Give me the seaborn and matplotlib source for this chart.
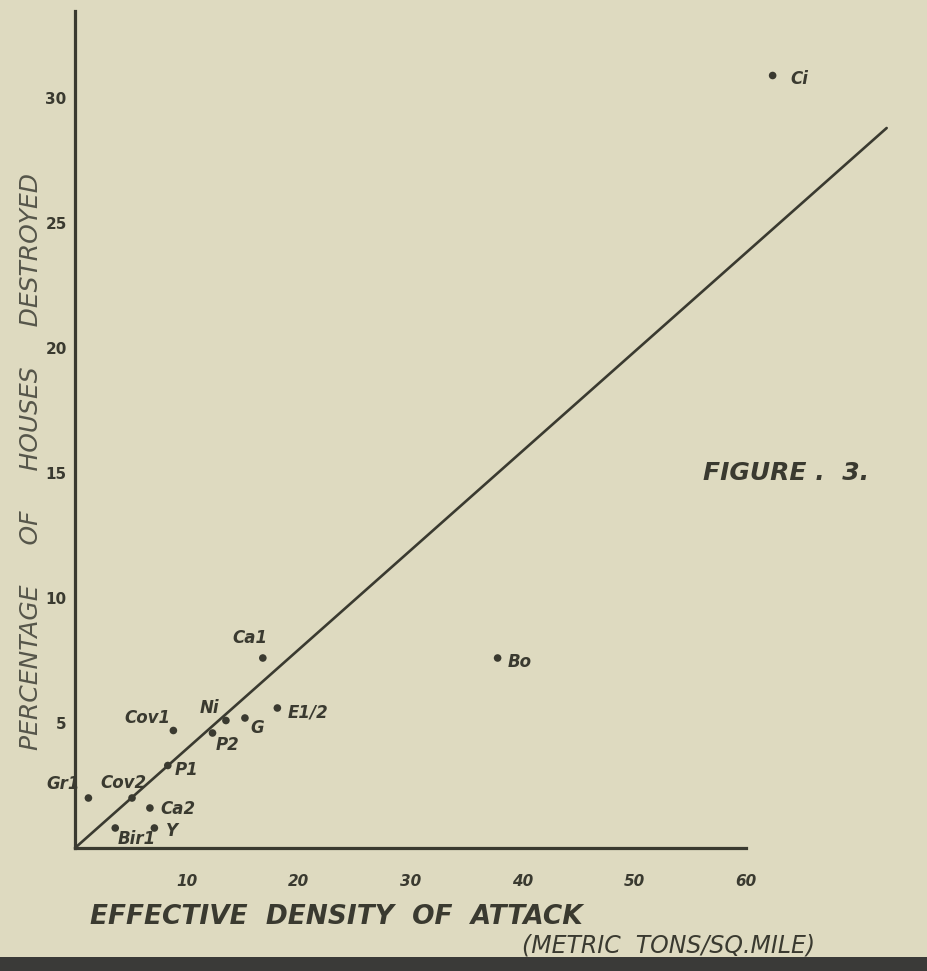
import numpy as np
import pandas as pd
import matplotlib
matplotlib.use("Agg")
import matplotlib.pyplot as plt
import seaborn as sns
from matplotlib.patches import Rectangle

sns.set_style("white")
plt.rcParams['font.family'] = ['DejaVu Sans']

# --- data ---
towns = ['Ci', 'Bo', 'Ca1', 'E1/2', 'G', 'Ni', 'P2', 'Cov1', 'P1', 'Cov2', 'Gr1', 'Ca2', 'Y', 'Bir1']
density = [62.4, 37.8, 16.8, 18.1, 15.2, 13.5, 12.3, 8.8, 8.3, 5.1, 1.2, 6.7, 7.1, 3.6]
pct_destroyed = [30.9, 7.6, 7.6, 5.6, 5.2, 5.1, 4.6, 4.7, 3.3, 2.0, 2.0, 1.6, 0.8, 0.8]

# fitted line through the origin
fit_x = [0, 72.6]
fit_y = [0, 28.8]

x_ticks = [10, 20, 30, 40, 50, 60]
y_ticks = [5, 10, 15, 20, 25, 30]

df = pd.DataFrame({'town': towns, 'density': density, 'pct': pct_destroyed})
fit_df = pd.DataFrame({'x': fit_x, 'y': fit_y})

# label offsets in pixels (dx right, dy down) relative to each dot
label_offsets = {
    'Ci': (27, 3), 'Bo': (22, 4), 'Ca1': (-13, -20), 'E1/2': (31, 4),
    'G': (12, 10), 'Ni': (-16, -13), 'P2': (15, 12), 'Cov1': (-26, -13),
    'P1': (19, 4), 'Cov2': (-9, -15), 'Gr1': (-25, -14), 'Ca2': (28, 1),
    'Y': (18, 3), 'Bir1': (22, 11),
}

paper = '#dedac0'
ink = '#3a3a30'

fig = plt.figure(figsize=(9.28, 9.71), dpi=100, facecolor=paper)
ax = fig.add_axes([0, 0, 1, 1], facecolor=paper)

# pixel frame of the original: origin at (75, 848), 11.18 px per x unit, 25 px per y unit
ax.set_xlim(-75 / 11.18, (928 - 75) / 11.18)
ax.set_ylim((848 - 971) / 25, 848 / 25)

sns.lineplot(data=fit_df, x='x', y='y', ax=ax, color=ink, linewidth=1.9)
sns.scatterplot(data=df, x='density', y='pct', ax=ax, color=ink, s=30,
                edgecolor='none', zorder=5)

for _, r in df.iterrows():
    dx, dy = label_offsets[r['town']]
    ax.annotate(r['town'], (r['density'], r['pct']),
                xytext=(dx * 0.72, -dy * 0.72), textcoords='offset points',
                ha='center', va='center', fontsize=12, style='italic',
                fontweight='semibold', color=ink)

# hand drawn style axes
for s in ['top', 'right']:
    ax.spines[s].set_visible(False)
ax.spines['left'].set_position(('data', 0))
ax.spines['bottom'].set_position(('data', 0))
ax.spines['left'].set_bounds(0, 33.5)
ax.spines['bottom'].set_bounds(0, 60)
for s in ['left', 'bottom']:
    ax.spines[s].set_color(ink)
    ax.spines[s].set_linewidth(2.3)

ax.set_xticks(x_ticks)
ax.set_yticks(y_ticks)
ax.set_xticklabels([str(v) for v in x_ticks], fontsize=11, fontweight='bold',
                   style='italic', color=ink)
ax.set_yticklabels([str(v) for v in y_ticks], fontsize=11, fontweight='bold',
                   color=ink)
ax.tick_params(axis='x', direction='out', length=5, width=1.5, color=ink, pad=14)
ax.tick_params(axis='y', direction='out', length=4, width=1.5, color=ink, pad=2)
ax.set_xlabel('')
ax.set_ylabel('')

# axis titles
fig.text(31 / 928, 1 - 462 / 971, 'PERCENTAGE     OF     HOUSES     DESTROYED',
         rotation=90, ha='center', va='center', fontsize=18, style='italic',
         fontweight='light', color='#55554a')
fig.text(336 / 928, 1 - 917 / 971, 'EFFECTIVE  DENSITY  OF  ATTACK',
         ha='center', va='center', fontsize=19, style='italic',
         fontweight='bold', color=ink)
fig.text(669 / 928, 1 - 945 / 971, '(METRIC  TONS/SQ.MILE)',
         ha='center', va='center', fontsize=17, style='italic', color=ink)
fig.text(703 / 928, 1 - 473 / 971, 'FIGURE .  3.', ha='left', va='center',
         fontsize=18, style='italic', fontweight='bold', color=ink)

# dark strip along the bottom edge of the scan
fig.patches.append(Rectangle((0, 0), 1, 14 / 971, transform=fig.transFigure,
                             facecolor='#3a3a38', edgecolor='none', zorder=0))

fig.savefig('out.png', dpi=100, facecolor=paper)
